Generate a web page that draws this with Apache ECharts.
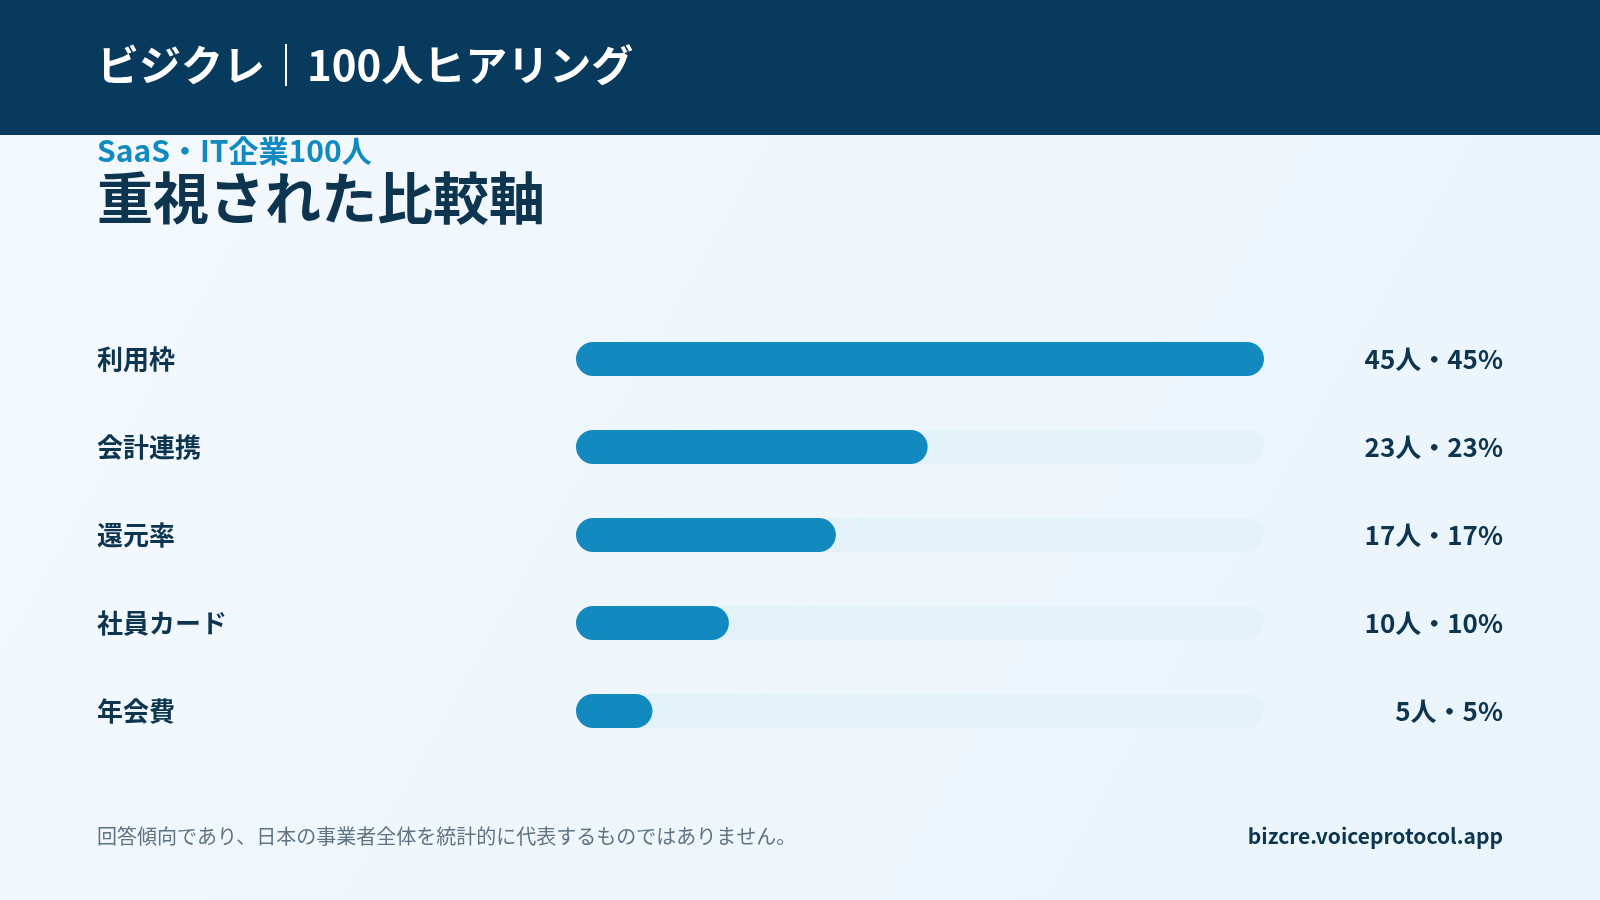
<!DOCTYPE html>
<html><head><meta charset="utf-8">
<script src="https://cdn.jsdelivr.net/npm/echarts@6/dist/echarts.min.js"></script>
<style>html,body{margin:0;padding:0;}#c{width:1600px;height:900px;}</style>
</head><body><div id="c"></div>
<script>
var categories = ['利用枠', '会計連携', '還元率', '社員カード', '年会費'];
var counts = [45, 23, 17, 10, 5];
var percents = [45, 23, 17, 10, 5];
var total = 45;

var font = '"Noto Sans CJK JP", serif';
var chart = echarts.init(document.getElementById('c'));
chart.setOption({
    backgroundColor: new echarts.graphic.LinearGradient(0, 0, 1, 1, [
        { offset: 0, color: '#f4f9fd' }, { offset: 1, color: '#e9f4fb' }
    ]),
    textStyle: { fontFamily: font },
    graphic: [
        { type: 'rect', left: 0, top: 0, shape: { width: 1600, height: 135 }, style: { fill: '#073a5c' } },
        { type: 'text', left: 97, top: 44, style: { text: 'ビジクレ｜100人ヒアリング', fill: '#ffffff', font: 'bold 42px ' + font } },
        { type: 'text', left: 97, top: 136, style: { text: 'SaaS・IT企業100人', fill: '#118ac0', font: 'bold 30px ' + font } },
        { type: 'text', left: 97, top: 170, style: { text: '重視された比較軸', fill: '#0d3550', font: 'bold 56px ' + font } },
        { type: 'text', left: 97, top: 826, style: { text: '回答傾向であり、日本の事業者全体を統計的に代表するものではありません。', fill: '#5f7383', font: '20px ' + font } },
        { type: 'text', right: 97, top: 826, style: { text: 'bizcre.voiceprotocol.app', fill: '#0d3550', font: 'bold 21px ' + font } }
    ],
    grid: { left: 576, right: 336, top: 315, height: 440 },
    xAxis: { type: 'value', min: 0, max: total, show: false },
    yAxis: [{
        type: 'category', inverse: true, data: categories,
        axisLine: { show: false }, axisTick: { show: false },
        axisLabel: { align: 'left', margin: 479, color: '#0d3550', fontSize: 26, fontWeight: 'bold', fontFamily: font }
    }, {
        type: 'category', inverse: true, position: 'right',
        data: categories.map(function (c, i) { return counts[i] + '人・' + percents[i] + '%'; }),
        axisLine: { show: false }, axisTick: { show: false },
        axisLabel: { align: 'right', margin: 239, color: '#0d3550', fontSize: 26, fontWeight: 'bold', fontFamily: font }
    }],
    series: [{
        type: 'bar', data: counts, barWidth: 34,
        itemStyle: { color: '#128abf', borderRadius: 17 },
        showBackground: true,
        backgroundStyle: { color: '#e3f1f9', borderRadius: 17 }
    }]
});
</script></body></html>
